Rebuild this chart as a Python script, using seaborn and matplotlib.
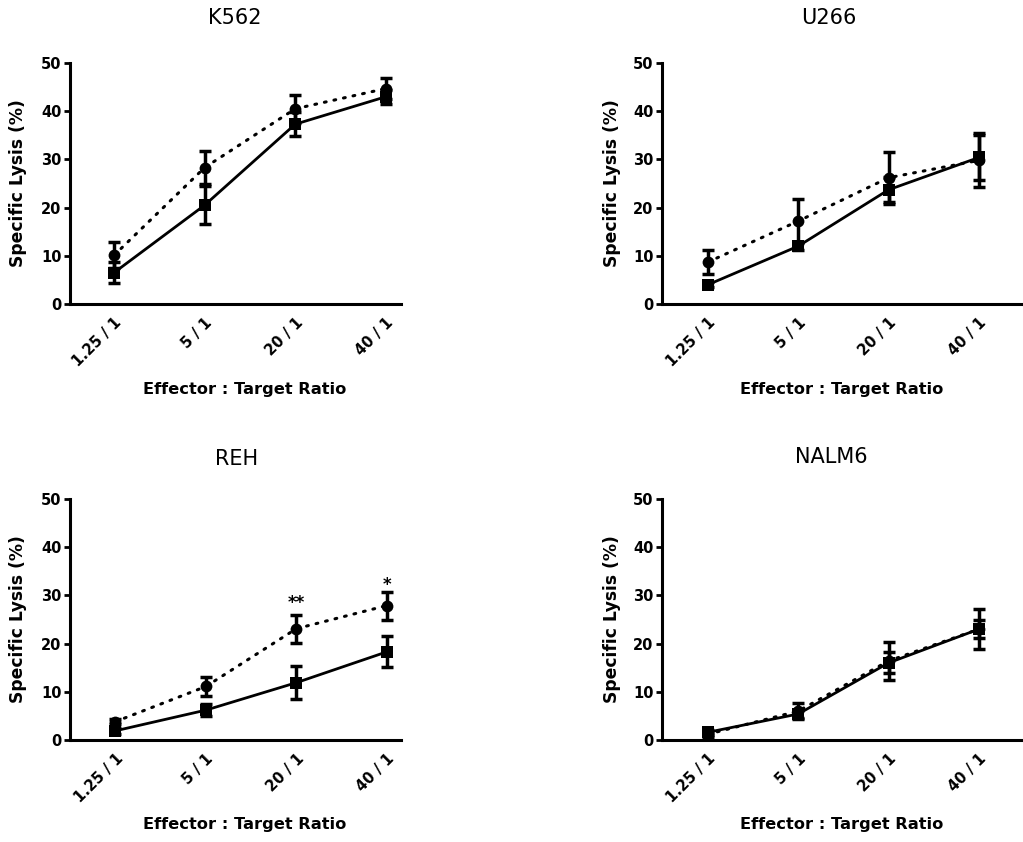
import numpy as np
import pandas as pd
import matplotlib
matplotlib.use("Agg")
import matplotlib.pyplot as plt
import matplotlib.transforms as mtransforms
import seaborn as sns

# ---------------- data ----------------
ratios = ["1.25 / 1", "5 / 1", "20 / 1", "40 / 1"]
panels = ["K562", "U266", "REH", "NALM6"]

# dotted line, circle markers
k562_dot = [10.1, 28.3, 40.5, 44.7]
k562_dot_err = [2.7, 3.4, 2.9, 2.2]
u266_dot = [8.7, 17.2, 26.2, 29.8]
u266_dot_err = [2.4, 4.6, 5.4, 5.6]
reh_dot = [3.8, 11.1, 23.1, 27.9]
reh_dot_err = [0.5, 2.0, 2.9, 2.9]
nalm6_dot = [1.2, 6.0, 16.4, 23.0]
nalm6_dot_err = [0.5, 1.6, 3.9, 4.2]

# solid line, square markers
k562_sol = [6.5, 20.5, 37.3, 43.0]
k562_sol_err = [2.2, 4.0, 2.5, 1.5]
u266_sol = [4.0, 12.0, 23.7, 30.4]
u266_sol_err = [0.5, 0.8, 2.6, 4.7]
reh_sol = [1.9, 6.2, 11.9, 18.3]
reh_sol_err = [0.6, 1.3, 3.4, 3.2]
nalm6_sol = [1.6, 5.4, 16.0, 23.0]
nalm6_sol_err = [0.5, 0.9, 2.2, 1.9]

dot_series = [(k562_dot, k562_dot_err), (u266_dot, u266_dot_err),
              (reh_dot, reh_dot_err), (nalm6_dot, nalm6_dot_err)]
sol_series = [(k562_sol, k562_sol_err), (u266_sol, u266_sol_err),
              (reh_sol, reh_sol_err), (nalm6_sol, nalm6_sol_err)]

# significance marks (panel, category index, y, text)
sig_marks = [("REH", 2, 27.3, "**"), ("REH", 3, 31.2, "*")]

# ---------------- style ----------------
sns.set_style("ticks")
plt.rcParams["font.family"] = ["DejaVu Sans"]
plt.rcParams["text.color"] = "black"
plt.rcParams["axes.labelcolor"] = "black"
plt.rcParams["xtick.color"] = "black"
plt.rcParams["ytick.color"] = "black"

W, H = 1023, 842
fig = plt.figure(figsize=(W / 100, H / 100), dpi=100)

def px_axes(left, top, right, bottom):
    return fig.add_axes([left / W, 1 - bottom / H, (right - left) / W, (bottom - top) / H])

axes_px = {
    "K562": (70, 63, 401, 304),
    "U266": (662, 63, 1023, 304),
    "REH": (70, 499, 401, 740),
    "NALM6": (662, 499, 1023, 740),
}
title_px = {"K562": (235, 18), "U266": (829, 18), "REH": (237, 459), "NALM6": (831, 457)}
xlim = {"K562": (-0.486, 3.168), "U266": (-0.508, 3.488),
        "REH": (-0.50, 3.155), "NALM6": (-0.508, 3.488)}

xpos = np.arange(len(ratios))
shift = mtransforms.ScaledTranslation(-5 / 100, 0, fig.dpi_scale_trans)

for i, name in enumerate(panels):
    l, t, r, b = axes_px[name]
    ax = px_axes(l, t, r, b)
    (dv, de) = dot_series[i]
    (sv, se) = sol_series[i]
    df_dot = pd.DataFrame({"x": xpos, "y": dv})
    df_sol = pd.DataFrame({"x": xpos, "y": sv})

    # dotted / circles
    ax.errorbar(xpos, dv, yerr=de, fmt="none", ecolor="black", elinewidth=2.5,
                capsize=4.5, capthick=2.5, clip_on=False, zorder=3)
    sns.lineplot(data=df_dot, x="x", y="y", ax=ax, color="black",
                 linestyle=(0, (0.6, 2.6)), dash_capstyle="round", linewidth=2.2,
                 marker="o", markersize=8.5, markeredgewidth=0,
                 clip_on=False, zorder=4)
    # solid / squares
    ax.errorbar(xpos, sv, yerr=se, fmt="none", ecolor="black", elinewidth=2.5,
                capsize=4.5, capthick=2.5, clip_on=False, zorder=5)
    sns.lineplot(data=df_sol, x="x", y="y", ax=ax, color="black",
                 linestyle="-", linewidth=2.0,
                 marker="s", markersize=8, markeredgewidth=0,
                 clip_on=False, zorder=6)

    ax.set_xlim(*xlim[name])
    ax.set_ylim(0, 50)
    ax.set_yticks([0, 10, 20, 30, 40, 50])
    ax.set_xticks(xpos)
    ax.set_xticklabels(ratios, rotation=45, ha="right", va="top",
                       rotation_mode="anchor", fontsize=10.5, fontweight="bold")
    for lab in ax.get_xticklabels():
        lab.set_transform(lab.get_transform() + shift)
    for lab in ax.get_yticklabels():
        lab.set_fontsize(10.5)
        lab.set_fontweight("bold")
    ax.tick_params(axis="x", length=0, pad=8)
    ax.tick_params(axis="y", length=4.5, width=2, pad=1.5, color="black")
    for s in ("top", "right"):
        ax.spines[s].set_visible(False)
    for s in ("left", "bottom"):
        ax.spines[s].set_linewidth(2.2)
        ax.spines[s].set_color("black")

    ax.set_ylabel("Specific Lysis (%)", fontsize=12.3, fontweight="bold")
    ax.set_xlabel("Effector : Target Ratio", fontsize=11.7, fontweight="bold")
    wpx = r - l
    hpx = b - t
    yl_center = 18 if l < 300 else 612
    ax.yaxis.set_label_coords((yl_center - l) / wpx, 0.5)
    xl_center = 244.5 if l < 300 else 842
    ax.xaxis.set_label_coords((xl_center - l) / wpx, -85 / hpx)
    ax.xaxis.label.set_va("center")
    ax.yaxis.label.set_va("center")

    tx, ty = title_px[name]
    fig.text(tx / W, 1 - ty / H, name, ha="center", va="center", fontsize=15)

    for (pn, ci, yv, txt) in sig_marks:
        if pn == name:
            ax.text(ci, yv, txt, ha="center", va="baseline", fontsize=12,
                    fontweight="bold")

fig.savefig("out.png", dpi=100, facecolor="white")
